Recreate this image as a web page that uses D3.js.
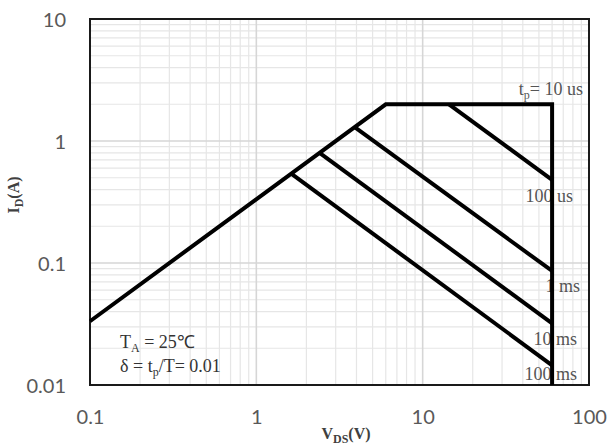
<!DOCTYPE html>
<html>
<head>
<meta charset="utf-8">
<script src="https://cdn.jsdelivr.net/npm/d3@7"></script>
<style>
  html, body { margin: 0; padding: 0; background: #fff; }
  svg { display: block; }
</style>
</head>
<body>
<svg id="chart" width="611" height="446"></svg>
<script>
// Safe operating area, drain current vs. drain-source voltage (log-log)
const xTicks = [0.1, 1, 10, 100];
const yTicks = [0.01, 0.1, 1, 10];
const xTickLabels = ["0.1", "1", "10", "100"];
const yTickLabels = ["0.01", "0.1", "1", "10"];

// Outer envelope (tp = 10 us): RDS(on) limit, current limit, voltage limit
const envelopeV = [0.1, 6, 60, 60];
const envelopeI = [0.0333, 2, 2, 0.01];

// Pulse-width limited segments
const pulseNames = ["100 us", "1 ms", "10 ms", "100 ms"];
const pulseV0 = [14.4, 3.9, 2.4, 1.62];
const pulseI0 = [2, 1.3, 0.8, 0.54];
const pulseV1 = [60, 60, 60, 60];
const pulseI1 = [0.48, 0.086, 0.032, 0.0145];

const svg = d3.select("#chart");
const m = { left: 90, right: 589, top: 19, bottom: 385 };

const x = d3.scaleLog().domain([0.1, 100]).range([m.left, m.right]);
const y = d3.scaleLog().domain([0.01, 10]).range([m.bottom, m.top]);

// Grid: minor lines at 2..9 of each decade, major lines at decades
const minorX = [], minorY = [];
[0.1, 1, 10].forEach(d => { for (let k = 2; k <= 9; k++) minorX.push(d * k); });
[0.01, 0.1, 1].forEach(d => { for (let k = 2; k <= 9; k++) minorY.push(d * k); });

const grid = svg.append("g");
grid.selectAll(".mx").data(minorX).enter().append("line")
  .attr("x1", d => x(d)).attr("x2", d => x(d))
  .attr("y1", m.top).attr("y2", m.bottom)
  .attr("stroke", "#e6e6e6").attr("stroke-width", 1.2);
grid.selectAll(".my").data(minorY).enter().append("line")
  .attr("y1", d => y(d)).attr("y2", d => y(d))
  .attr("x1", m.left).attr("x2", m.right)
  .attr("stroke", "#e6e6e6").attr("stroke-width", 1.2);
grid.selectAll(".Mx").data(xTicks).enter().append("line")
  .attr("x1", d => x(d)).attr("x2", d => x(d))
  .attr("y1", m.top).attr("y2", m.bottom)
  .attr("stroke", "#d6d6d6").attr("stroke-width", 1.6);
grid.selectAll(".My").data(yTicks).enter().append("line")
  .attr("y1", d => y(d)).attr("y2", d => y(d))
  .attr("x1", m.left).attr("x2", m.right)
  .attr("stroke", "#d6d6d6").attr("stroke-width", 1.6);

// Axes (labels only, frame drawn separately)
const xAxis = d3.axisBottom(x).tickValues(xTicks)
  .tickFormat((d, i) => xTickLabels[i]).tickSize(0).tickPadding(0);
const gx = svg.append("g").attr("transform", `translate(0,${m.bottom})`).call(xAxis);
gx.select(".domain").remove();
gx.selectAll("text")
  .attr("y", 39).attr("dy", 0)
  .attr("font-family", "Lato, 'Open Sans', sans-serif")
  .attr("font-size", 20).attr("fill", "#595959");

const yAxis = d3.axisLeft(y).tickValues(yTicks)
  .tickFormat((d, i) => yTickLabels[i]).tickSize(0).tickPadding(0);
const gy = svg.append("g").attr("transform", `translate(${m.left},0)`).call(yAxis);
gy.select(".domain").remove();
gy.selectAll("text")
  .attr("x", -24).attr("dy", "0.35em")
  .attr("font-family", "Lato, 'Open Sans', sans-serif")
  .attr("font-size", 20).attr("fill", "#595959");

// Plot frame
svg.append("rect")
  .attr("x", m.left).attr("y", m.top)
  .attr("width", m.right - m.left).attr("height", m.bottom - m.top)
  .attr("fill", "none").attr("stroke", "#1a1a1a").attr("stroke-width", 2);

// Annotation text
const serif = "'Liberation Serif', 'Times New Roman', serif";
const ann = svg.append("g")
  .attr("font-family", serif).attr("font-size", 18).attr("fill", "#555");

function subText(g, xPos, yPos, anchor, parts) {
  const t = g.append("text").attr("x", xPos).attr("y", yPos).attr("text-anchor", anchor);
  parts.forEach(p => {
    const s = t.append("tspan").text(p.t);
    if (p.sub) s.attr("dy", 4).attr("font-size", 12);
    if (p.up) s.attr("dy", -4);
  });
  return t;
}

const xEnd = x(60);
subText(ann, 583, y(2) - 9, "end",
  [{ t: "t" }, { t: "p", sub: true }, { t: "= 10 us", up: true }]);

const pulseLabelEnd = [573, 580, 577, 577];
const pulseLabelDy = [22, 21, 22, 15];
pulseNames.forEach((name, i) => {
  ann.append("text")
    .attr("x", pulseLabelEnd[i])
    .attr("y", y(pulseI1[i]) + pulseLabelDy[i])
    .attr("text-anchor", "end")
    .text(name);
});

const cond = svg.append("g")
  .attr("font-family", serif).attr("font-size", 18).attr("fill", "#333");
subText(cond, 120, 348, "start",
  [{ t: "T" }, { t: "A", sub: true }, { t: " = 25℃", up: true }]);
subText(cond, 120, 372, "start",
  [{ t: "δ = t" }, { t: "p", sub: true }, { t: "/T= 0.01", up: true }]);

// SOA curves
const line = d3.line().x(d => x(d[0])).y(d => y(d[1]));
const curves = svg.append("g")
  .attr("fill", "none").attr("stroke", "#000")
  .attr("stroke-width", 4).attr("stroke-linejoin", "miter");
curves.append("path").attr("d", line(envelopeV.map((v, i) => [v, envelopeI[i]])));
pulseNames.forEach((name, i) => {
  curves.append("path")
    .attr("d", line([[pulseV0[i], pulseI0[i]], [pulseV1[i], pulseI1[i]]]));
});

// Axis titles
const titles = svg.append("g")
  .attr("font-family", serif).attr("font-weight", "bold")
  .attr("font-size", 16).attr("fill", "#404040");
subText(titles, 0, 0, "middle",
  [{ t: "I" }, { t: "D", sub: true }, { t: "(A)", up: true }])
  .attr("transform", "translate(19,195) rotate(-90)");
subText(titles, 346, 439, "middle",
  [{ t: "V" }, { t: "DS", sub: true }, { t: "(V)", up: true }]);
</script>
</body>
</html>
